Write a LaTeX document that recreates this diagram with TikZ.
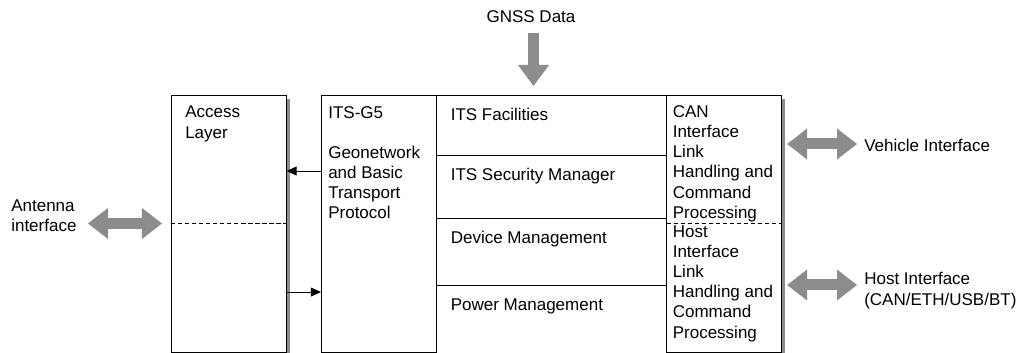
\documentclass[tikz,border=0pt]{standalone}
\usepackage{fontspec}
\setmainfont{Liberation Sans}
\usetikzlibrary{arrows.meta, positioning, shadows}
\definecolor{flowgrey}{RGB}{140,140,140}

\begin{document}
\begin{tikzpicture}[
    x=0.025cm, y=-0.025cm,
    font=\fontsize{12.1}{14.3}\selectfont,
    node distance=0pt,
    block/.style={rectangle, draw=black, line width=0.7pt, fill=white, inner sep=0pt, outer sep=0pt},
    shadowed/.style={drop shadow={shadow xshift=0.075cm, shadow yshift=-0.1cm, fill=black!45, opacity=1}},
    txt/.style={inner sep=0pt, align=left, anchor=north west, execute at begin node=\strut},
    splitline/.style={line width=0.5pt, dash pattern=on 3pt off 2pt},
    flow/.style={flowgrey, line width=0.275cm, -{Triangle[length=0.525cm, width=0.775cm, line width=0pt]}},
    dualflow/.style={flow, {Triangle[length=0.5cm, width=0.775cm, line width=0pt]}-{Triangle[length=0.5cm, width=0.775cm, line width=0pt]}},
    link/.style={line width=0.7pt, -{Triangle[length=0.25cm, width=0.22cm]}}
]
\useasboundingbox (0,0) rectangle (1022,353);

% protocol stack
\node[block, shadowed, anchor=north west, minimum width=2.8875cm, minimum height=6.4375cm] (access) at (171,95) {};
\node[block, anchor=north west, minimum width=2.8875cm, minimum height=6.4375cm] (g5) at (321,95) {};
\node[block, anchor=north west, minimum width=5.75cm, minimum height=1.5cm] (facilities) at (436.5,95) {};
\node[block, below=of facilities, minimum width=5.75cm, minimum height=1.575cm] (security) {};
\node[block, below=of security, minimum width=5.75cm, minimum height=1.675cm] (device) {};
\node[block, below=of device, minimum width=5.75cm, minimum height=1.7cm] (power) {};
\node[block, shadowed, anchor=north west, minimum width=2.875cm, minimum height=6.4375cm] (ifcol) at (666.5,95) {};

\coordinate (split) at (0,223.5);
\draw[splitline] (access.west |- split) -- (access.east |- split);
\draw[splitline] (ifcol.west |- split) -- (ifcol.east |- split);

% texts inside the stack
\node[txt] (accesstxt) at ([shift={(14,11)}]access.north west) {Access\\Layer};
\node[txt] (g5txt) at ([shift={(7,11)}]g5.north west) {ITS-G5\\[0.5cm]Geonetwork\\and Basic\\Transport\\Protocol};
\node[txt] (facilitiestxt) at ([shift={(14,11)}]facilities.north west) {ITS Facilities};
\node[txt] (securitytxt) at ([shift={(14,11)}]security.north west) {ITS Security Manager};
\node[txt] (devicetxt) at ([shift={(14,11)}]device.north west) {Device Management};
\node[txt] (powertxt) at ([shift={(14,11)}]power.north west) {Power Management};
\node[txt] (cantxt) at ([shift={(6,10.5)}]ifcol.north west) {CAN\\Interface\\Link\\Handling and\\Command\\Processing};
\node[txt] (hosttxt) at ([shift={(6,130.5)}]ifcol.north west) {Host\\Interface\\Link\\Handling and\\Command\\Processing};

% outside labels
\node[txt, anchor=base] (gnss) at (531,23) {GNSS Data};
\node[txt] (antenna) at (11,199.5) {Antenna\\interface};
\node[txt, anchor=base west] (vehicle) at (864,151.5) {Vehicle Interface};
\node[txt] (host) at (864,272.3) {Host Interface\\(CAN/ETH/USB/BT)};

\coordinate (gnssport) at (533.5,33);
\coordinate (antport) at (88,223.5);
\coordinate (vehport) at (857,144);
\coordinate (hostport) at (857,285);

% data flows
\draw[flow, shorten >=0.225cm] (gnssport) -- (gnssport |- facilities.north);
\draw[dualflow, shorten >=0.225cm] (antport) -- (access.west |- antport);
\draw[dualflow, shorten <=0.14cm] (ifcol.east |- vehport) -- (vehport);
\draw[dualflow, shorten <=0.14cm] (ifcol.east |- hostport) -- (hostport);

\draw[link] ([yshift=-1.9cm]g5.north west) -- ([yshift=-1.9cm]access.north east);
\draw[link] ([yshift=-4.925cm]access.north east) -- ([yshift=-4.925cm]g5.north west);
\end{tikzpicture}
\end{document}
